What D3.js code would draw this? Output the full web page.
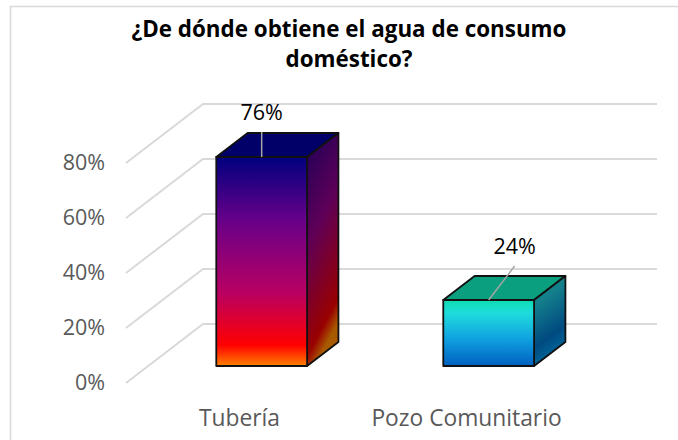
<!DOCTYPE html>
<html>
<head>
<meta charset="utf-8">
<script src="https://cdn.jsdelivr.net/npm/d3@7"></script>
<style>
  html, body { margin: 0; padding: 0; background: #fff; }
  text { font-family: "Open Sans", sans-serif; }
</style>
</head>
<body>
<div id="chart"></div>
<script>
// Data
const titleLines = ["¿De dónde obtiene el agua de consumo", "doméstico?"];
const categories = ["Tubería", "Pozo Comunitario"];
const percentValues = [76, 24];
const percentTicks = [0, 20, 40, 60, 80];

// Gradient stops for each bar: [offset, colour]
const frontStops = [
  [[0, "#00007f"], [0.3, "#670089"], [0.65, "#b90062"], [0.9, "#ff0000"], [1, "#ff8200"]],
  [[0, "#0ddcb0"], [0.2, "#1fdcdc"], [0.6, "#0f9fe0"], [1, "#0060c0"]]
];
const sideStops = [
  [[0, "#1c0058"], [0.45, "#5e0058"], [0.9, "#990000"], [1, "#a85a00"]],
  [[0, "#128a78"], [0.3, "#14808c"], [0.75, "#004a80"], [1, "#006a9c"]]
];
const topColors = ["#000068", "#0a9f7f"];

// Layout
const width = 678;
const height = 440;
const plotLeft = 126;
const plotRight = 580;
const zeroY = 383;
const eightyY = 163;
const depthX = 77;
const depthY = -59;
const barFrontDepth = 0.288;
const barBackDepth = 0.695;
const gridColor = "#d9d9d9";
const labelColor = "#595959";

const x = d3.scaleBand().domain(categories).range([plotLeft, plotRight]).paddingInner(0.6).paddingOuter(0.3);
const y = d3.scaleLinear().domain([0, 80]).range([zeroY, eightyY]);

// projects a chart position (x pixel, value, depth 0-1) onto the page
function project(px, value, depth) {
  return [px + depth * depthX, y(value) + depth * depthY];
}
const pathFrom = d3.line();

const svg = d3.select("#chart")
  .append("svg")
    .attr("width", width)
    .attr("height", height)
    .style("display", "block");

// outer frame, only the top and left edges show
svg.append("path")
  .attr("d", pathFrom([[10.5, height], [10.5, 6.5], [width, 6.5]]))
  .attr("fill", "none")
  .attr("stroke", gridColor)
  .attr("stroke-width", 1.5);

// title
svg.append("g").selectAll("text")
  .data(titleLines)
  .join("text")
    .attr("x", 349)
    .attr("y", (d, i) => 37 + i * 30)
    .attr("text-anchor", "middle")
    .attr("font-size", 22.4)
    .attr("font-weight", 700)
    .attr("fill", "#000")
    .text(d => d);

// walls: slanted side lines and horizontal back lines
const grid = svg.append("g")
  .attr("stroke", gridColor)
  .attr("stroke-width", 2)
  .attr("fill", "none");

grid.selectAll("path")
  .data(percentTicks)
  .join("path")
    .attr("d", d => pathFrom([
      project(plotLeft, d, 0),
      project(plotLeft, d, 1),
      project(plotRight, d, 1)
    ]));

// axes, text only
const yAxis = svg.append("g")
  .attr("transform", `translate(${plotLeft - 21},0)`)
  .call(d3.axisLeft(y).tickValues(percentTicks).tickSize(0).tickPadding(0).tickFormat(d => d + "%"));
const xAxis = svg.append("g")
  .attr("transform", `translate(0,${zeroY + 27})`)
  .call(d3.axisBottom(d3.scaleBand().domain(categories).range([plotLeft, plotRight])).tickSize(0).tickPadding(0));
yAxis.selectAll("text").attr("font-size", 21.5);
xAxis.selectAll("text").attr("font-size", 22.8);
for (const axis of [yAxis, xAxis]) {
  axis.select(".domain").remove();
  axis.selectAll("text")
    .attr("fill", labelColor)
    .style("font-family", '"Open Sans", sans-serif');
}

// gradients
const defs = svg.append("defs");
function addGradient(id, stops, vector) {
  const g = defs.append("linearGradient")
    .attr("id", id)
    .attr("x1", vector[0]).attr("y1", vector[1])
    .attr("x2", vector[2]).attr("y2", vector[3]);
  g.selectAll("stop")
    .data(stops)
    .join("stop")
      .attr("offset", d => d[0])
      .attr("stop-color", d => d[1]);
}
categories.forEach((c, i) => {
  addGradient("front" + i, frontStops[i], [0, 0, 0, 1]);
  addGradient("side" + i, sideStops[i], [0, 0, 0.25, 1]);
});

// bars
const bars = svg.append("g")
  .selectAll("g")
  .data(categories.map((c, i) => ({ name: c, value: percentValues[i], i: i })))
  .join("g")
    .attr("stroke", "#111")
    .attr("stroke-width", 1.8)
    .attr("stroke-linejoin", "round");

function barFace(d, corners) {
  return pathFrom(corners.map(k => project(
    x(d.name) + k[0] * x.bandwidth(),
    k[1] ? d.value : 0,
    k[2] ? barBackDepth : barFrontDepth
  ))) + "Z";
}

bars.append("path")
  .attr("fill", d => topColors[d.i])
  .attr("d", d => barFace(d, [[0, 1, 0], [0, 1, 1], [1, 1, 1], [1, 1, 0]]));
bars.append("path")
  .attr("fill", d => `url(#side${d.i})`)
  .attr("d", d => barFace(d, [[1, 1, 0], [1, 1, 1], [1, 0, 1], [1, 0, 0]]));
bars.append("path")
  .attr("fill", d => `url(#front${d.i})`)
  .attr("d", d => barFace(d, [[0, 1, 0], [1, 1, 0], [1, 0, 0], [0, 0, 0]]));

// data labels with leader lines
const labelOffsets = [[0, -25], [26, -34]];
const labelGap = -12;
const labels = svg.append("g")
  .selectAll("g")
  .data(categories.map((c, i) => ({ name: c, value: percentValues[i], i: i })))
  .join("g")
    .attr("transform", d => {
      const p = project(x(d.name) + x.bandwidth() / 2, d.value, barFrontDepth);
      return `translate(${p[0]},${p[1]})`;
    });

labels.append("line")
  .attr("x2", d => labelOffsets[d.i][0])
  .attr("y2", d => labelOffsets[d.i][1])
  .attr("stroke", "#a6a6a6")
  .attr("stroke-width", 1.5);

labels.append("text")
  .attr("x", d => labelOffsets[d.i][0])
  .attr("y", d => labelOffsets[d.i][1] + labelGap)
  .attr("text-anchor", "middle")
  .attr("font-size", 21.5)
  .attr("fill", "#000")
  .text(d => d.value + "%");
</script>
</body>
</html>
